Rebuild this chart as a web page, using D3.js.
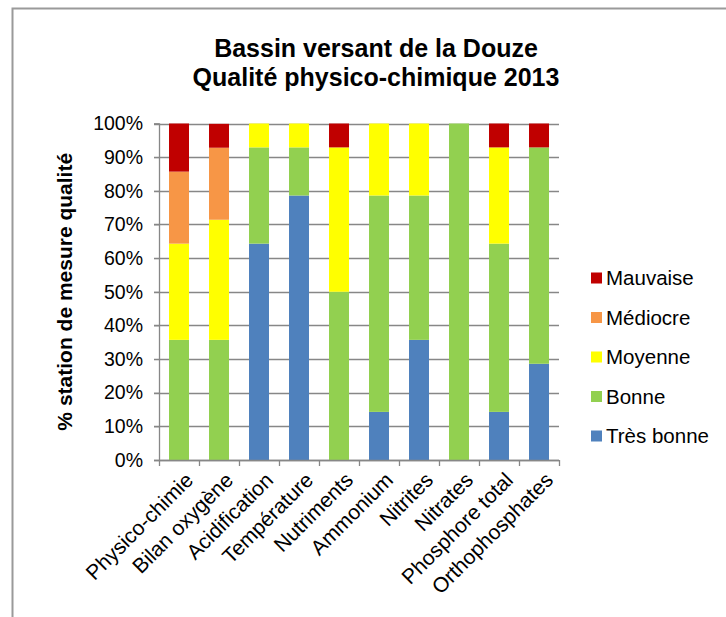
<!DOCTYPE html>
<html>
<head>
<meta charset="utf-8">
<script src="https://cdn.jsdelivr.net/npm/d3@7"></script>
<style>
  html, body { margin: 0; padding: 0; background: #fff; }
  svg { display: block; font-family: "Liberation Sans", Arial, sans-serif; }
</style>
</head>
<body>
<svg id="chart" width="726" height="617"></svg>
<script>
// Parameters measured at each station (x categories)
const categories = [
  "Physico-chimie", "Bilan oxygène", "Acidification", "Température", "Nutriments",
  "Ammonium", "Nitrites", "Nitrates", "Phosphore total", "Orthophosphates"
];

// Share of stations (%) in each quality class, per parameter
const tresBonne = [0,    0,    64.3, 78.6, 0,    14.3, 35.7, 0,   14.3, 28.6];
const bonne     = [35.7, 35.7, 28.6, 14.3, 50.0, 64.3, 42.9, 100, 50.0, 64.3];
const moyenne   = [28.6, 35.7, 7.1,  7.1,  42.9, 21.4, 21.4, 0,   28.6, 0];
const mediocre  = [21.4, 21.4, 0,    0,    0,    0,    0,    0,   0,    0];
const mauvaise  = [14.3, 7.1,  0,    0,    7.1,  0,    0,    0,   7.1,  7.1];

const seriesNames = ["Très bonne", "Bonne", "Moyenne", "Médiocre", "Mauvaise"];
const seriesValues = [tresBonne, bonne, moyenne, mediocre, mauvaise];
const seriesColors = ["#4F81BD", "#92D050", "#FFFF00", "#F79646", "#C00000"];

const yTicks = [0, 10, 20, 30, 40, 50, 60, 70, 80, 90, 100];

const titleLines = ["Bassin versant de la Douze", "Qualité physico-chimique 2013"];
const yTitle = "% station de mesure qualité";

// Layout
const svg = d3.select("#chart");
const plot = { left: 159, right: 559, top: 123.5, bottom: 460 };
const gridColor = "#878787";

// Outer frame
svg.append("path")
  .attr("d", "M12.5,630 L12.5,8.5 L740,8.5")
  .attr("fill", "none")
  .attr("stroke", "#9a9a9a")
  .attr("stroke-width", 2);

// Title
const title = svg.append("text")
  .attr("text-anchor", "middle")
  .attr("font-weight", "bold")
  .attr("font-size", 25)
  .attr("fill", "#000");
titleLines.forEach((t, i) => {
  title.append("tspan").attr("x", 376).attr("y", 57 + i * 28.5).text(t);
});

// Scales
const x = d3.scaleBand().domain(categories).range([plot.left, plot.right]).paddingInner(0.5).paddingOuter(0.25);
const y = d3.scaleLinear().domain([0, 100]).range([plot.bottom, plot.top]);

// Gridlines
svg.append("g")
  .selectAll("line")
  .data(yTicks)
  .join("line")
  .attr("x1", plot.left - 5)
  .attr("x2", plot.right)
  .attr("y1", d => Math.round(y(d)) + 0.5)
  .attr("y2", d => Math.round(y(d)) + 0.5)
  .attr("stroke", gridColor)
  .attr("stroke-width", 1.3);

// Stacked bars
const table = categories.map((c, i) => {
  const row = { cat: c };
  seriesNames.forEach((s, j) => { row[s] = seriesValues[j][i]; });
  return row;
});
const stacked = d3.stack().keys(seriesNames)(table);

svg.append("g")
  .selectAll("g")
  .data(stacked)
  .join("g")
  .attr("fill", (d, i) => seriesColors[i])
  .selectAll("rect")
  .data(d => d)
  .join("rect")
  .attr("x", d => x(d.data.cat))
  .attr("width", x.bandwidth())
  .attr("y", d => y(Math.min(d[1], 100)))
  .attr("height", d => Math.max(0, y(d[0]) - y(Math.min(d[1], 100))));

// Y axis
const yAxis = svg.append("g")
  .attr("transform", `translate(${plot.left},0)`)
  .call(d3.axisLeft(y).tickValues(yTicks).tickFormat(d => d + "%").tickSize(5).tickPadding(11));
yAxis.select(".domain").attr("stroke", gridColor).attr("stroke-width", 1.3);
yAxis.selectAll(".tick line").attr("stroke", gridColor);
yAxis.selectAll("text").attr("font-size", 19.5).attr("fill", "#000")
  .attr("font-family", "'Liberation Sans', Arial, sans-serif");

// X axis: tick marks at category boundaries
const xAxisG = svg.append("g");
xAxisG.append("line")
  .attr("x1", plot.left).attr("x2", plot.right)
  .attr("y1", plot.bottom + 0.5).attr("y2", plot.bottom + 0.5)
  .attr("stroke", gridColor).attr("stroke-width", 1.3);
const boundaries = d3.range(categories.length + 1).map(i => plot.left + i * (plot.right - plot.left) / categories.length);
xAxisG.selectAll("line.b")
  .data(boundaries)
  .join("line")
  .attr("class", "b")
  .attr("x1", d => Math.round(d) + 0.5).attr("x2", d => Math.round(d) + 0.5)
  .attr("y1", plot.bottom).attr("y2", plot.bottom + 6)
  .attr("stroke", gridColor).attr("stroke-width", 1.3);

// Rotated category labels
xAxisG.selectAll("text")
  .data(categories)
  .join("text")
  .attr("transform", d => `translate(${x(d) + x.bandwidth() / 2 + 5},${plot.bottom + 11}) rotate(-45)`)
  .attr("text-anchor", "end")
  .attr("dy", "0.7em")
  .attr("font-size", 21)
  .attr("fill", "#000")
  .text(d => d);

// Y axis title
svg.append("text")
  .attr("transform", `translate(72,${(plot.top + plot.bottom) / 2}) rotate(-90)`)
  .attr("text-anchor", "middle")
  .attr("font-weight", "bold")
  .attr("font-size", 21)
  .attr("fill", "#000")
  .text(yTitle);

// Legend, top entry is the worst class
const legendOrder = seriesNames.map((s, i) => ({ name: s, color: seriesColors[i] })).reverse();
const legend = svg.append("g");
const lg = legend.selectAll("g")
  .data(legendOrder)
  .join("g")
  .attr("transform", (d, i) => `translate(591,${278 + i * 39.5})`);
lg.append("rect").attr("x", 0).attr("y", -5.5).attr("width", 11).attr("height", 11).attr("fill", d => d.color);
lg.append("text").attr("x", 15).attr("dy", "0.36em").attr("font-size", 20.5).attr("fill", "#000").text(d => d.name);
</script>
</body>
</html>
